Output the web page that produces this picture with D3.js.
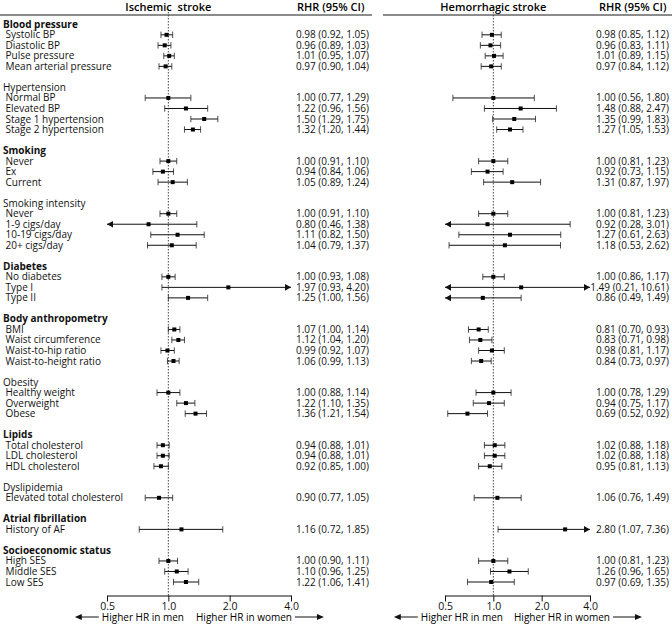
<!DOCTYPE html>
<html>
<head>
<meta charset="utf-8">
<script src="https://cdn.jsdelivr.net/npm/d3@7"></script>
<style>
  body { margin: 0; background: #fff; }
  svg { font-family: "Open Sans", sans-serif; }
</style>
</head>
<body>
<svg id="chart" width="672" height="626"></svg>
<script>
// groups and their rows
const groups = ["Blood pressure", "Hypertension", "Smoking", "Smoking intensity", "Diabetes",
  "Body anthropometry", "Obesity", "Lipids", "Dyslipidemia", "Atrial fibrillation", "Socioeconomic status"];
const boldGroups = ["Blood pressure", "Smoking", "Diabetes", "Body anthropometry", "Lipids",
  "Atrial fibrillation", "Socioeconomic status"];
const items = [
  ["Systolic BP", "Diastolic BP", "Pulse pressure", "Mean arterial pressure"],
  ["Normal BP", "Elevated BP", "Stage 1 hypertension", "Stage 2 hypertension"],
  ["Never", "Ex", "Current"],
  ["Never", "1-9 cigs/day", "10-19 cigs/day", "20+ cigs/day"],
  ["No diabetes", "Type I", "Type II"],
  ["BMI", "Waist circumference", "Waist-to-hip ratio", "Waist-to-height ratio"],
  ["Healthy weight", "Overweight", "Obese"],
  ["Total cholesterol", "LDL cholesterol", "HDL cholesterol"],
  ["Elevated total cholesterol"],
  ["History of AF"],
  ["High SES", "Middle SES", "Low SES"]
];

// ischemic stroke: ratio of hazard ratios with 95% CI
const ischRHR = [0.98, 0.96, 1.01, 0.97, 1.00, 1.22, 1.50, 1.32, 1.00, 0.94, 1.05, 1.00, 0.80, 1.11, 1.04,
  1.00, 1.97, 1.25, 1.07, 1.12, 0.99, 1.06, 1.00, 1.22, 1.36, 0.94, 0.94, 0.92, 0.90, 1.16, 1.00, 1.10, 1.22];
const ischLo = [0.92, 0.89, 0.95, 0.90, 0.77, 0.96, 1.29, 1.20, 0.91, 0.84, 0.89, 0.91, 0.46, 0.82, 0.79,
  0.93, 0.93, 1.00, 1.00, 1.04, 0.92, 0.99, 0.88, 1.10, 1.21, 0.88, 0.88, 0.85, 0.77, 0.72, 0.90, 0.96, 1.06];
const ischHi = [1.05, 1.03, 1.07, 1.04, 1.29, 1.56, 1.75, 1.44, 1.10, 1.06, 1.24, 1.10, 1.38, 1.50, 1.37,
  1.08, 4.20, 1.56, 1.14, 1.20, 1.07, 1.13, 1.14, 1.35, 1.54, 1.01, 1.01, 1.00, 1.05, 1.85, 1.11, 1.25, 1.41];

// hemorrhagic stroke
const hemRHR = [0.98, 0.96, 1.01, 0.97, 1.00, 1.48, 1.35, 1.27, 1.00, 0.92, 1.31, 1.00, 0.92, 1.27, 1.18,
  1.00, 1.49, 0.86, 0.81, 0.83, 0.98, 0.84, 1.00, 0.94, 0.69, 1.02, 1.02, 0.95, 1.06, 2.80, 1.00, 1.26, 0.97];
const hemLo = [0.85, 0.83, 0.89, 0.84, 0.56, 0.88, 0.99, 1.05, 0.81, 0.73, 0.87, 0.81, 0.28, 0.61, 0.53,
  0.86, 0.21, 0.49, 0.70, 0.71, 0.81, 0.73, 0.78, 0.75, 0.52, 0.88, 0.88, 0.81, 0.76, 1.07, 0.81, 0.96, 0.69];
const hemHi = [1.12, 1.11, 1.15, 1.12, 1.80, 2.47, 1.83, 1.53, 1.23, 1.15, 1.97, 1.23, 3.01, 2.63, 2.62,
  1.17, 10.61, 1.49, 0.93, 0.98, 1.17, 0.97, 1.29, 1.17, 0.92, 1.18, 1.18, 1.13, 1.49, 7.36, 1.23, 1.65, 1.35];

const tickValues = [0.5, 1, 2, 4];

const svg = d3.select("#chart");
const fmt = d3.format(".2f");

// build row list: header, items, blank spacer
let rows = [];
let k = 0;
groups.forEach((g, gi) => {
  rows.push({ type: "head", label: g, id: "h" + gi });
  items[gi].forEach(it => {
    rows.push({ type: "item", label: it, id: "i" + k, k: k });
    k++;
  });
  if (gi < groups.length - 1) rows.push({ type: "blank", id: "b" + gi });
});

const y = d3.scalePoint()
  .domain(rows.map(r => r.id))
  .range([24.3, 582]);

// row labels
svg.append("g")
  .selectAll("text")
  .data(rows.filter(r => r.type !== "blank"))
  .join("text")
  .attr("x", d => d.type === "head" ? 3 : 5.5)
  .attr("y", d => y(d.id))
  .attr("dy", "0.35em")
  .attr("font-size", "10px")
  .attr("font-weight", d => d.type === "head" && boldGroups.includes(d.label) ? "bold" : "normal")
  .attr("fill", "#111")
  .text(d => d.label);

const axisY = 595.5;

function drawPanel(title, rhr, lo, hi, x0, x1, valEnd, headX, ruleX0, ruleX1, menEnd, womenStart) {
  const x = d3.scaleLog().base(2).domain([0.5, 4]).range([x0, x1]);
  const g = svg.append("g");

  // header
  g.append("text")
    .attr("x", x(1))
    .attr("y", 10.5)
    .attr("text-anchor", "middle")
    .attr("font-size", "11px")
    .attr("font-weight", 600)
    .style("white-space", "pre")
    .text(title);
  g.append("text")
    .attr("x", headX)
    .attr("y", 10.5)
    .attr("font-size", "11px")
    .attr("font-weight", 600)
    .text("RHR (95% CI)");
  g.append("line")
    .attr("x1", ruleX0).attr("x2", ruleX1)
    .attr("y1", 15).attr("y2", 15)
    .attr("stroke", "#666")
    .attr("stroke-width", 1.5);

  // reference line at 1
  g.append("line")
    .attr("x1", x(1)).attr("x2", x(1))
    .attr("y1", 9).attr("y2", axisY)
    .attr("stroke", "#333")
    .attr("stroke-width", 0.9)
    .attr("stroke-dasharray", "1.5,1.5");

  const data = rows.filter(r => r.type === "item").map(r => ({
    yy: y(r.id), est: rhr[r.k], lo: lo[r.k], hi: hi[r.k]
  }));

  const cl = v => Math.max(0.5, Math.min(4, v));

  g.append("g")
    .selectAll("line")
    .data(data)
    .join("line")
    .attr("x1", d => x(cl(d.lo)))
    .attr("x2", d => x(cl(d.hi)))
    .attr("y1", d => d.yy).attr("y2", d => d.yy)
    .attr("stroke", "#111")
    .attr("stroke-width", 1);

  // caps where the CI lies inside the axis
  const caps = [];
  data.forEach(d => {
    if (d.lo >= 0.5) caps.push({ v: d.lo, yy: d.yy });
    if (d.hi <= 4) caps.push({ v: d.hi, yy: d.yy });
  });
  g.append("g")
    .selectAll("line")
    .data(caps)
    .join("line")
    .attr("x1", d => x(d.v)).attr("x2", d => x(d.v))
    .attr("y1", d => d.yy - 3.2).attr("y2", d => d.yy + 3.2)
    .attr("stroke", "#222")
    .attr("stroke-width", 0.8);

  // arrows where the CI runs off the axis
  const arrows = [];
  data.forEach(d => {
    if (d.lo < 0.5) arrows.push({ dir: -1, yy: d.yy });
    if (d.hi > 4) arrows.push({ dir: 1, yy: d.yy });
  });
  g.append("g")
    .selectAll("path")
    .data(arrows)
    .join("path")
    .attr("d", d => {
      const tx = d.dir < 0 ? x(0.5) : x(4);
      return `M${tx},${d.yy} L${tx - d.dir * 6},${d.yy - 3.3} L${tx - d.dir * 6},${d.yy + 3.3} Z`;
    })
    .attr("fill", "#111");

  // point estimates
  g.append("g")
    .selectAll("rect")
    .data(data)
    .join("rect")
    .attr("x", d => x(d.est) - 2)
    .attr("y", d => d.yy - 2)
    .attr("width", 4)
    .attr("height", 4)
    .attr("fill", "#000");

  // value text
  g.append("g")
    .selectAll("text")
    .data(data)
    .join("text")
    .attr("x", valEnd)
    .attr("y", d => d.yy)
    .attr("dy", "0.35em")
    .attr("text-anchor", "end")
    .attr("font-size", "10px")
    .attr("fill", "#111")
    .text(d => `${fmt(d.est)} (${fmt(d.lo)}, ${fmt(d.hi)})`);

  // axis
  const ax = g.append("g")
    .attr("transform", `translate(0,${axisY})`)
    .call(d3.axisBottom(x).tickValues(tickValues).tickFormat(d3.format(".1f")).tickSize(6).tickSizeOuter(0));
  ax.select(".domain").attr("stroke", "#111");
  ax.selectAll(".tick line").attr("stroke", "#111");
  ax.selectAll(".tick text")
    .attr("y", 7)
    .attr("font-family", "Open Sans, sans-serif")
    .attr("font-size", "10.5px")
    .attr("fill", "#111");

  // direction labels
  const ty = 617;
  const men = g.append("text")
    .attr("x", menEnd).attr("y", ty).attr("dy", "0.35em")
    .attr("text-anchor", "end")
    .attr("font-size", "10px")
    .text("Higher HR in men");
  const women = g.append("text")
    .attr("x", womenStart).attr("y", ty).attr("dy", "0.35em")
    .attr("font-size", "10px")
    .text("Higher HR in women");

  const menLen = men.node().getComputedTextLength();
  const womenLen = women.node().getComputedTextLength();
  const arrowsDir = [
    { from: menEnd - menLen - 3, to: menEnd - menLen - 27 },
    { from: womenStart + womenLen + 3, to: womenStart + womenLen + 32 }
  ];
  arrowsDir.forEach(a => {
    const dir = Math.sign(a.to - a.from);
    g.append("line")
      .attr("x1", a.from).attr("x2", a.to - dir * 5)
      .attr("y1", ty).attr("y2", ty)
      .attr("stroke", "#111").attr("stroke-width", 1);
    g.append("path")
      .attr("d", `M${a.to},${ty} L${a.to - dir * 7},${ty - 3} L${a.to - dir * 7},${ty + 3} Z`)
      .attr("fill", "#111");
  });
}

drawPanel("Ischemic  stroke", ischRHR, ischLo, ischHi, 107, 291, 369, 297, 0, 372, 184, 196);
drawPanel("Hemorrhagic stroke", hemRHR, hemLo, hemHi, 445, 590, 669, 599, 383, 672, 503, 514);
</script>
</body>
</html>
